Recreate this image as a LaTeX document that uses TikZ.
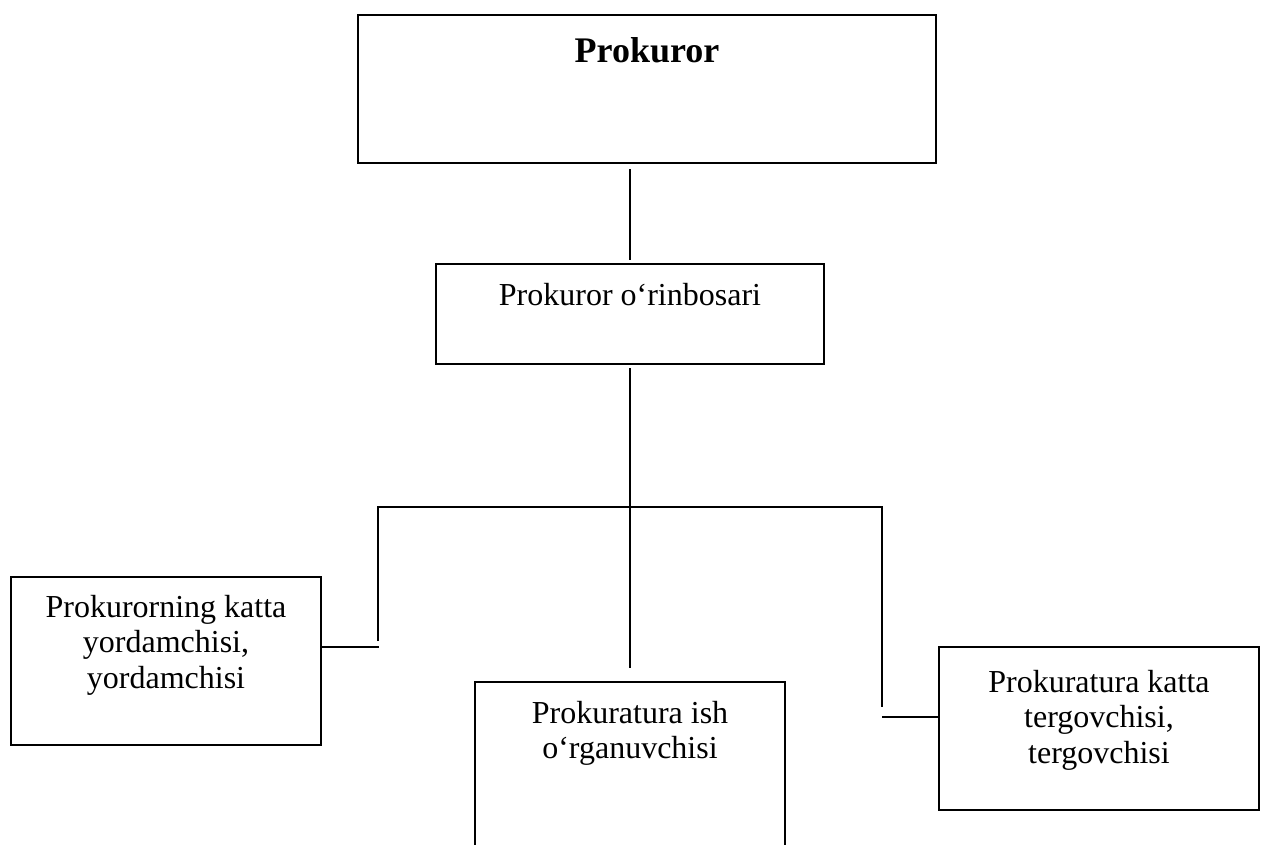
\documentclass[tikz,border=0pt]{standalone}
\usepackage{fontspec}
\setmainfont{Liberation Serif}
\begin{document}
\begin{tikzpicture}[x={(1pt,0)},y={(0,-1pt)},
  box/.style={draw=black,line width=1.8pt,anchor=north west,inner sep=0pt,outer sep=0pt},
  txt/.style={anchor=base,inner sep=0pt,font=\fontsize{32}{35.5}\selectfont},
  ttl/.style={anchor=base,inner sep=0pt,font=\fontsize{36}{40}\selectfont\bfseries},
  link/.style={draw=black,line width=1.8pt}]
\useasboundingbox (0,0) rectangle (1261,844);
\clip (0,0) rectangle (1261,844);
% boxes
\node[box,minimum width=578pt,minimum height=148pt] (b1) at (358,15) {};
\node[box,minimum width=388pt,minimum height=100pt] (b2) at (436,264) {};
\node[box,minimum width=310pt,minimum height=168pt] (bl) at (11,577) {};
\node[box,minimum width=310pt,minimum height=190pt] (bm) at (475,682) {};
\node[box,minimum width=320pt,minimum height=163pt] (br) at (939,647) {};
% texts
\node[ttl] (t1) at (647,62) {Prokuror};
\node[txt] (t2) at (630,305) {Prokuror o‘rinbosari};
\node[txt] (tl1) at (166,617) {Prokurorning katta};
\node[txt] (tl2) at (166,652.5) {yordamchisi,};
\node[txt] (tl3) at (166,688) {yordamchisi};
\node[txt] (tm1) at (630,723) {Prokuratura ish};
\node[txt] (tm2) at (630,758.5) {o‘rganuvchisi};
\node[txt] (tr1) at (1099,692) {Prokuratura katta};
\node[txt] (tr2) at (1099,727.5) {tergovchisi,};
\node[txt] (tr3) at (1099,763) {tergovchisi};
% connector points
\coordinate (c1a) at (630,169);
\coordinate (c1b) at (630,260);
\coordinate (c2a) at (630,368);
\coordinate (c2b) at (630,668);
\coordinate (hl) at (378,507);
\coordinate (hr) at (882,507);
\coordinate (vl) at (378,641);
\coordinate (vr) at (882,707);
\coordinate (el) at (379,647);
\coordinate (er) at (882,717);
\coordinate (ble) at (321,647);
\coordinate (bre) at (939,717);
% connectors
\draw[link] (c1a) -- (c1b);
\draw[link] (c2a) -- (c2b);
\draw[link] (vl) -- (hl) -- (hr) -- (vr);
\draw[link] (ble) -- (el);
\draw[link] (er) -- (bre);
\end{tikzpicture}
\end{document}
